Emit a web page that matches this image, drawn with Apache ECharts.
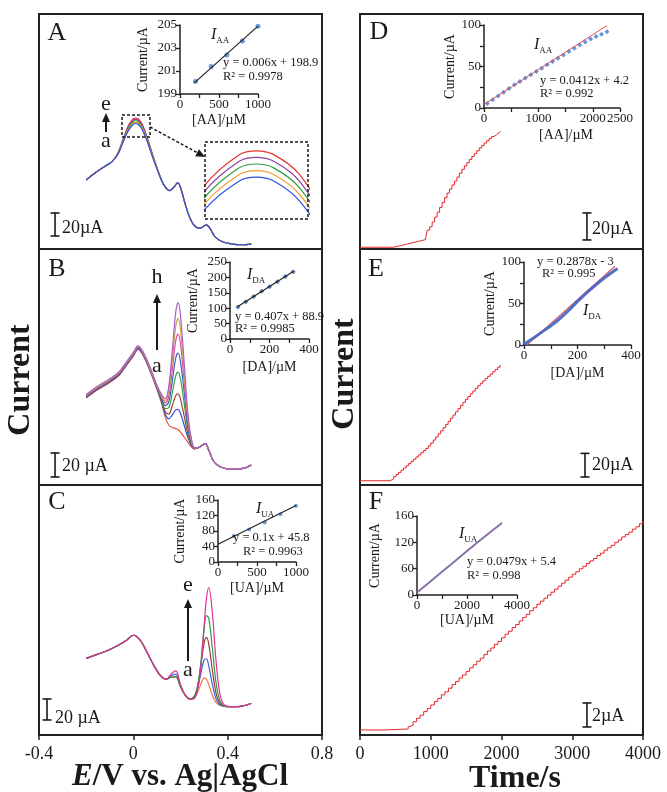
<!DOCTYPE html>
<html>
<head>
<meta charset="utf-8">
<title>DPV and amperometric response of AA, DA, UA</title>
<style>
  html, body { margin: 0; padding: 0; background: #fff; }
  #chart { width: 667px; height: 792px; }
</style>
</head>
<body>
<div id="chart"></div>
<script src="https://cdn.jsdelivr.net/npm/echarts@6/dist/echarts.min.js"></script>
<script>
  // ---------- DPV curves (potential in V, current in uA, arbitrary offset) ----------
  var potA = [-0.2, -0.16, -0.12, -0.09, -0.065, -0.04, -0.02, 0, 0.01, 0.02, 0.035, 0.055, 0.08, 0.105, 0.13, 0.155, 0.175, 0.188, 0.2, 0.22, 0.24, 0.26, 0.283, 0.3, 0.31, 0.325, 0.345, 0.375, 0.42, 0.46, 0.5];
  var dpvA_a = [60, 66.5, 72, 76, 82.3, 94.6, 103.3, 108.4, 109.1, 108.4, 104.8, 95.6, 80.8, 67, 55.5, 50.7, 54.5, 57.5, 53.5, 39, 27, 20, 18, 20, 21, 18, 11, 6.5, 4.3, 3.7, 4.3];
  var dpvA_b = [60, 66.5, 72, 76, 82.6, 95.3, 104.4, 109.6, 110.3, 109.6, 106, 96.5, 81.4, 67.3, 55.5, 50.7, 54.5, 57.5, 53.5, 39, 27, 20, 18, 20, 21, 18, 11, 6.5, 4.3, 3.7, 4.3];
  var dpvA_c = [60, 66.5, 72, 76, 83, 96, 105.5, 110.8, 111.5, 110.8, 107.2, 97.5, 82, 67.5, 55.5, 50.7, 54.5, 57.5, 53.5, 39, 27, 20, 18, 20, 21, 18, 11, 6.5, 4.3, 3.7, 4.3];
  var dpvA_d = [60, 66.5, 72, 76, 83.4, 96.7, 106.6, 112, 112.7, 112, 108.4, 98.5, 82.6, 67.7, 55.5, 50.7, 54.5, 57.5, 53.5, 39, 27, 20, 18, 20, 21, 18, 11, 6.5, 4.3, 3.7, 4.3];
  var dpvA_e = [60, 66.5, 72, 76, 83.7, 97.4, 107.7, 113.2, 113.9, 113.2, 109.6, 99.4, 83.2, 68, 55.5, 50.7, 54.5, 57.5, 53.5, 39, 27, 20, 18, 20, 21, 18, 11, 6.5, 4.3, 3.7, 4.3];

  var potB = [-0.2, -0.15, -0.1, -0.06, -0.03, 0, 0.02, 0.04, 0.07, 0.1, 0.12, 0.135, 0.15, 0.165, 0.18, 0.19, 0.2, 0.215, 0.23, 0.245, 0.26, 0.275, 0.29, 0.305, 0.32, 0.34, 0.37, 0.42, 0.47, 0.5];
  var dpvB_a = [72.5, 79.5, 85.5, 91.5, 99.5, 107.5, 113, 108.5, 95.5, 80, 68, 57, 50, 48, 47, 46, 44, 40, 36, 32, 30, 31, 33, 34.5, 29, 20, 15, 13, 14, 16.7];
  var dpvB_b = [73, 80, 86, 92, 100, 108, 113.5, 109, 96, 80.5, 69.2, 59.4, 55.1, 58.2, 62.6, 63, 59.6, 50.2, 40.3, 33.2, 30.2, 31, 33, 34.5, 29, 20, 15, 13, 14, 16.7];
  var dpvB_c = [73.5, 80.5, 86.5, 92.5, 100.5, 108.5, 114, 109.5, 96.5, 80.9, 70.1, 61.2, 59, 66, 74.6, 76, 71.6, 58, 43.5, 34.1, 30.3, 31, 33, 34.5, 29, 20, 15, 13, 14, 16.7];
  var dpvB_d = [74, 81, 87, 93, 101, 109, 114.5, 110, 97, 81.4, 71.4, 63.7, 64.4, 76.8, 91.2, 94, 88.2, 68.8, 48, 35.4, 30.5, 31, 33, 34.5, 29, 20, 15, 13, 14, 16.7];
  var dpvB_e = [74, 81, 87, 93, 101, 109, 114.5, 110, 97, 81.9, 72.5, 66, 69.2, 86.4, 105.9, 110, 102.9, 78.4, 52, 36.5, 30.6, 31, 33, 34.5, 29, 20, 15, 13, 14, 16.7];
  var dpvB_f = [74.5, 81.5, 87.5, 93.5, 101.5, 109.5, 115, 110.5, 97.5, 82.4, 73.6, 68.2, 74, 96, 120.6, 126, 117.6, 88, 56, 37.6, 30.8, 31, 33, 34.5, 29, 20, 15, 13, 14, 16.7];
  var dpvB_g = [75, 82, 88, 94, 102, 110, 115.5, 111, 98, 82.8, 74.5, 70, 77.9, 103.8, 132.6, 139, 129.6, 95.8, 59.3, 38.5, 30.9, 31, 33, 34.5, 29, 20, 15, 13, 14, 16.7];
  var dpvB_h = [75.5, 82.5, 88.5, 94.5, 102.5, 110.5, 116, 111.5, 98.5, 83.2, 75.4, 71.8, 81.8, 111.6, 144.5, 152, 141.5, 103.6, 62.5, 39.4, 31.1, 31, 33, 34.5, 29, 20, 15, 13, 14, 16.7];

  var potC = [-0.2, -0.15, -0.1, -0.06, -0.03, 0, 0.03, 0.06, 0.09, 0.115, 0.14, 0.16, 0.18, 0.2, 0.22, 0.24, 0.255, 0.27, 0.285, 0.3, 0.31, 0.32, 0.335, 0.35, 0.365, 0.38, 0.4, 0.43, 0.46, 0.5];
  var dpvC_a = [73, 77, 81.5, 86, 90, 95, 90, 78, 65, 56.5, 53, 55, 55.5, 46, 38, 34.4, 35, 39.2, 47.6, 54.1, 53.1, 47.9, 37.9, 31.1, 28.5, 27.6, 27, 27, 27.5, 30];
  var dpvC_b = [73, 77, 81.5, 86, 90, 95, 90, 78, 65, 56.5, 53, 56.5, 58, 47, 38, 34.4, 35.6, 42.5, 57.1, 71.4, 72.6, 65.6, 48.1, 34.9, 29.3, 27.7, 27, 27, 27.5, 30];
  var dpvC_c = [73, 77, 81.5, 86, 90, 95, 90, 78, 65, 56.5, 53, 55, 55.5, 46, 38, 34.4, 35.8, 44, 63.9, 87.4, 93, 86.4, 61.9, 40.5, 30.8, 27.9, 27, 27, 27.5, 30];
  var dpvC_d = [73, 77, 81.5, 86, 90, 95, 90, 78, 65, 56.5, 53, 55, 55.5, 46, 38, 34.3, 35.3, 43.5, 66.7, 99.9, 113.6, 111.4, 82.9, 50.8, 33.8, 28.4, 27, 27, 27.5, 30];
  var dpvC_e = [73, 77, 81.5, 86, 90, 95, 90, 78, 65, 56.5, 53, 58, 61, 48, 38, 34.2, 34.4, 40.4, 62.1, 103.8, 129.9, 140.5, 116.7, 72.3, 41.7, 30.2, 27.2, 27, 27.5, 30];

  // ---------- amperometric i-t curves [time s, current uA] (step level after each addition) ----------
  var ampD = [[0, 1.3], [424, 1.3], [474, 1.9], [524, 2.5], [574, 3.1], [624, 3.8], [674, 4.4], [724, 5], [774, 5.6], [824, 6.3], [874, 6.9], [924, 7.6], [950, 14], [985, 16.5], [1020, 20], [1055, 23.6], [1090, 27.2], [1125, 30.8], [1160, 34.4], [1195, 38], [1230, 41.4], [1265, 44.4], [1300, 47.4], [1335, 50.3], [1370, 53.2], [1405, 56.1], [1440, 59], [1475, 61.6], [1510, 64], [1545, 66.3], [1580, 68.5], [1615, 70.6], [1650, 72.7], [1685, 74.8], [1720, 76.7], [1755, 78.5], [1790, 80.2], [1825, 81.8], [1860, 83.3], [1895, 84.7], [1930, 86], [1965, 87.2], [1985, 87.2]];
  var ampE = [[0, 3.6], [424, 3.6], [440, 5.2], [475, 7], [510, 8.9], [545, 10.7], [580, 12.6], [615, 14.4], [650, 16.3], [685, 18.1], [720, 20], [755, 21.8], [790, 23.7], [825, 25.5], [860, 27.4], [895, 29.2], [930, 31], [965, 33.2], [1000, 35.6], [1035, 38.1], [1070, 40.7], [1105, 43.3], [1140, 45.9], [1175, 48.6], [1210, 51.2], [1245, 53.9], [1280, 56.6], [1315, 59.3], [1350, 62], [1385, 64.7], [1420, 67.4], [1455, 70.1], [1490, 72.6], [1525, 75], [1560, 77.3], [1595, 79.6], [1630, 81.9], [1665, 84.1], [1700, 86.2], [1735, 88.2], [1770, 90.2], [1805, 92.1], [1840, 94], [1875, 96], [1910, 97.9], [1945, 99.8], [1980, 101.7]];
  var ampF = [[0, 0.42], [340, 0.5], [680, 0.67], [700, 0.8], [750, 1.1], [800, 1.4], [850, 1.65], [900, 1.95], [950, 2.2], [1000, 2.5], [1050, 2.8], [1100, 3.05], [1150, 3.35], [1200, 3.6], [1250, 3.9], [1300, 4.2], [1350, 4.45], [1400, 4.75], [1450, 5], [1500, 5.3], [1550, 5.6], [1600, 5.85], [1650, 6.15], [1700, 6.4], [1750, 6.7], [1800, 7], [1850, 7.25], [1900, 7.55], [1950, 7.8], [2000, 8.1], [2050, 8.4], [2100, 8.65], [2150, 8.95], [2200, 9.2], [2250, 9.5], [2300, 9.8], [2350, 10.05], [2400, 10.35], [2450, 10.6], [2500, 10.9], [2550, 11.15], [2600, 11.4], [2650, 11.65], [2700, 11.9], [2750, 12.15], [2800, 12.4], [2850, 12.65], [2900, 12.9], [2950, 13.15], [3000, 13.4], [3050, 13.6], [3100, 13.85], [3150, 14.05], [3200, 14.3], [3250, 14.5], [3300, 14.7], [3350, 14.95], [3400, 15.15], [3450, 15.4], [3500, 15.6], [3550, 15.8], [3600, 16.05], [3650, 16.25], [3700, 16.5], [3750, 16.7], [3800, 16.9], [3850, 17.15], [3900, 17.35], [3950, 17.6], [4000, 17.8]];

  // ---------- calibration insets ----------
  var concAA_dpv = [200, 400, 600, 800, 1000];
  var curAA_dpv = [200.1, 201.4, 202.4, 203.6, 204.9];
  var fitAA_dpv = [[180, 199.95], [1000, 204.9]];
  var concDA_dpv = [40, 80, 120, 160, 200, 240, 280, 320];
  var curDA_dpv = [104, 121, 138, 155, 170, 186, 203, 218];
  var fitDA_dpv = [[40, 105.2], [320, 219.1]];
  var concUA_dpv = [200, 400, 600, 800, 1000];
  var curUA_dpv = [67, 84, 102, 123, 145];
  var fitUA_dpv = [[0, 45.8], [1000, 145.8]];
  var concAA_amp = [60, 160, 260, 360, 460, 560, 660, 760, 860, 960, 1060, 1160, 1260, 1360, 1460, 1560, 1660, 1760, 1860, 1960, 2060, 2160, 2260];
  var curAA_amp = [5.5, 10, 14.5, 19, 23.5, 28, 32, 36, 40, 44, 48, 52, 56, 60, 64, 68, 72, 76, 79.5, 83, 86, 89, 92];
  var fitAA_amp = [[0, 4.2], [2260, 99.3]];
  var concDA_amp = [0, 20, 40, 60, 80, 100, 120, 140, 160, 180, 200, 220, 240, 260, 280, 300, 320, 340, 350];
  var curDA_amp = [0.5, 5, 9.5, 14, 18.5, 23, 28, 33.5, 39.5, 46, 52.5, 58.5, 64.5, 70, 75.5, 80.5, 85.5, 90, 92];
  var fitDA_amp = [[12, 0.5], [340, 94.9]];
  var concUA_amp = [0, 500, 1000, 1500, 2000, 2500, 3000, 3400];
  var curUA_amp = [5, 26, 47, 68, 89, 110, 130, 146];
  var fitUA_amp = [[0, 5.4], [3400, 147]];

  // tick labels
  var potTicks = [-0.4, 0, 0.4, 0.8];
  var timeTicks = [0, 1000, 2000, 3000, 4000];
  var insetFyLabels = ['0', '60', '120', '160'];

  // ---------- helpers ----------
  var SERIF = "'Liberation Serif', 'DejaVu Serif', serif";
  var INK = '#1a1a1a';

  function zip(xs, ys) {
    return xs.map(function (x, i) { return [x, ys[i]]; });
  }

  function curve(g, xs, ys, color) {
    return {
      type: 'line', xAxisIndex: g, yAxisIndex: g, data: zip(xs, ys),
      symbol: 'none', smooth: 0.35, silent: true,
      lineStyle: { color: color, width: 1.2 }
    };
  }

  function stepLine(g, data) {
    return {
      type: 'line', xAxisIndex: g, yAxisIndex: g, data: data, step: 'end',
      symbol: 'none', silent: true, lineStyle: { color: '#e5262b', width: 1 }
    };
  }

  function straight(g, data, color, width) {
    return {
      type: 'line', xAxisIndex: g, yAxisIndex: g, data: data, symbol: 'none',
      silent: true, lineStyle: { color: color, width: width }
    };
  }

  function dots(g, xs, ys, symbol, size, color) {
    return {
      type: 'scatter', xAxisIndex: g, yAxisIndex: g, data: zip(xs, ys),
      symbol: symbol, symbolSize: size, silent: true, itemStyle: { color: color }
    };
  }

  function scaleBar(g, x, y0, h) {
    return {
      type: 'line', xAxisIndex: g, yAxisIndex: g, data: [[x, y0], [x, y0 + h]],
      symbol: 'rect', symbolSize: [9, 1.6], showSymbol: true, silent: true,
      lineStyle: { color: INK, width: 1.6 }, itemStyle: { color: INK }
    };
  }

  function mainGrid(left, top, height) {
    return {
      left: left, top: top, width: 283, height: height, show: true,
      borderColor: '#222', borderWidth: 2, backgroundColor: 'transparent',
      containLabel: false, outerBoundsMode: 'none'
    };
  }

  function insetGrid(left, top, width, height) {
    return { left: left, top: top, width: width, height: height, containLabel: false, outerBoundsMode: 'none' };
  }

  function hiddenAxis(g, min, max) {
    return { gridIndex: g, type: 'value', min: min, max: max, show: false };
  }

  function only(list) {
    return function (v) {
      for (var i = 0; i < list.length; i++) {
        if (Math.abs(list[i] - v) < 1e-6) return String(list[i]);
      }
      return '';
    };
  }

  function mainX(g, min, max, interval, labels) {
    return {
      gridIndex: g, type: 'value', min: min, max: max, interval: interval,
      axisLine: { show: true, onZero: false, lineStyle: { color: '#222', width: 2 } },
      axisTick: { show: true, length: 5, lineStyle: { color: '#222', width: 1.5 } },
      axisLabel: { fontFamily: SERIF, fontSize: 18, color: INK, margin: 10, formatter: only(labels) },
      splitLine: { show: false }
    };
  }

  function insetAxis(g, dim, min, max, interval, name, nameGap, fmt, namePad) {
    return {
      gridIndex: g, type: 'value', min: min, max: max, interval: interval,
      name: name, nameLocation: 'middle', nameGap: nameGap,
      nameTextStyle: { fontFamily: SERIF, fontSize: 14, color: INK, padding: namePad || 0 },
      axisLine: { show: true, onZero: false, lineStyle: { color: '#222', width: 1.5 } },
      axisTick: { show: true, length: 4, lineStyle: { color: '#222', width: 1.3 } },
      axisLabel: { fontFamily: SERIF, fontSize: 13, color: INK, margin: dim === 'x' ? 4 : 3, formatter: fmt },
      splitLine: { show: false }
    };
  }

  function T(x, y, text, font, align, rot) {
    return {
      type: 'text', x: x, y: y, z: 100, rotation: rot || 0, silent: true,
      style: {
        text: text, font: font, fill: INK,
        textAlign: align || 'center', align: align || 'center',
        textVerticalAlign: 'middle', verticalAlign: 'middle'
      }
    };
  }

  function sub(x, y, main, low) {
    return {
      type: 'text', x: x, y: y, z: 100, silent: true,
      style: {
        text: '{i|' + main + '}{s|' + low + '}', fill: INK,
        textAlign: 'left', align: 'left', textVerticalAlign: 'middle', verticalAlign: 'middle',
        rich: {
          i: { font: 'italic 16px ' + SERIF, fill: INK, lineHeight: 18, verticalAlign: 'top' },
          s: { font: '9px ' + SERIF, fill: INK, lineHeight: 9, verticalAlign: 'bottom' }
        }
      }
    };
  }

  function upArrow(x, yTail, yHead) {
    return [
      { type: 'line', z: 100, silent: true, shape: { x1: x, y1: yTail, x2: x, y2: yHead + 7 }, style: { stroke: INK, lineWidth: 2 } },
      { type: 'polygon', z: 100, silent: true, shape: { points: [[x, yHead], [x - 4, yHead + 9], [x + 4, yHead + 9]] }, style: { fill: INK } }
    ];
  }

  var EQ = '12.5px ' + SERIF;
  var colorsA = ['#2f4fe0', '#f0a030', '#2e9e3e', '#8a3fa0', '#e8322c'];
  var colorsB = ['#e8553a', '#2f4fd8', '#9c4a2a', '#36a048', '#3a60c8', '#e4508c', '#c8a050', '#a860c8'];
  var colorsC = ['#ef7a4a', '#3d5fe0', '#9a3c2e', '#2f9a48', '#e0309a'];

  var chart = echarts.init(document.getElementById('chart'), null, { renderer: 'canvas' });

  var series = [];
  // panel A main + zoom window (red drawn first so blue sits on top)
  [dpvA_e, dpvA_d, dpvA_c, dpvA_b, dpvA_a].forEach(function (ys, i) {
    series.push(curve(0, potA, ys, colorsA[4 - i]));
  });
  [dpvA_a, dpvA_b, dpvA_c, dpvA_d, dpvA_e].forEach(function (ys, i) {
    series.push(curve(12, potA, ys, colorsA[i]));
  });
  [dpvB_a, dpvB_b, dpvB_c, dpvB_d, dpvB_e, dpvB_f, dpvB_g, dpvB_h].forEach(function (ys, i) {
    series.push(curve(1, potB, ys, colorsB[i]));
  });
  [dpvC_a, dpvC_b, dpvC_c, dpvC_d, dpvC_e].forEach(function (ys, i) {
    series.push(curve(2, potC, ys, colorsC[i]));
  });
  series.push(stepLine(3, ampD), stepLine(4, ampE), stepLine(5, ampF));

  // scale bars (20 uA / 2 uA)
  series.push(scaleBar(0, -0.332, 11.3, 20));
  series.push(scaleBar(1, -0.332, 6.7, 20));
  series.push(scaleBar(2, -0.366, 14.3, 20));
  series.push(scaleBar(3, 3208, 6.7, 20));
  series.push(scaleBar(4, 3180, 6.8, 20));
  series.push(scaleBar(5, 3208, 0.67, 2));

  // insets
  series.push(straight(6, fitAA_dpv, '#222', 1.2), dots(6, concAA_dpv, curAA_dpv, 'circle', 5, '#4a86d0'));
  series.push(straight(7, fitDA_dpv, '#222', 1.2), dots(7, concDA_dpv, curDA_dpv, 'diamond', 5, '#2a56a8'));
  series.push(straight(8, fitUA_dpv, '#222', 1.2), dots(8, concUA_dpv, curUA_dpv, 'circle', 4, '#4a86d0'));
  series.push(straight(9, fitAA_amp, '#e05050', 1), dots(9, concAA_amp, curAA_amp, 'diamond', 5, '#3b7bd4'));
  series.push(straight(10, fitDA_amp, '#e05060', 1.2), {
    type: 'line', xAxisIndex: 10, yAxisIndex: 10, data: zip(concDA_amp, curDA_amp), symbol: 'none',
    silent: true, lineStyle: { color: '#3f62c0', width: 3, opacity: 0.9 }
  });
  series.push({
    type: 'line', xAxisIndex: 11, yAxisIndex: 11, data: zip(concUA_amp, curUA_amp), symbol: 'none',
    silent: true, lineStyle: { color: '#6080c8', width: 2 }
  }, straight(11, fitUA_amp, '#c86078', 1));

  var graphics = [
    T(57, 33, 'A', '26px ' + SERIF), T(57, 269, 'B', '26px ' + SERIF), T(57, 502, 'C', '26px ' + SERIF),
    T(379, 32, 'D', '26px ' + SERIF), T(376, 269, 'E', '26px ' + SERIF), T(376, 502, 'F', '26px ' + SERIF),
    T(21, 380, 'Current', 'bold 32px ' + SERIF, 'center', Math.PI / 2),
    T(345, 374, 'Current', 'bold 32px ' + SERIF, 'center', Math.PI / 2),
    {
      type: 'text', x: 180, y: 777, z: 100, silent: true,
      style: {
        text: '{e|E}{b|/V vs. Ag|AgCl}', fill: INK,
        textAlign: 'center', align: 'center', textVerticalAlign: 'middle', verticalAlign: 'middle',
        rich: { e: { font: 'italic bold 31px ' + SERIF, fill: INK }, b: { font: 'bold 31px ' + SERIF, fill: INK } }
      }
    },
    T(515, 779, 'Time/s', 'bold 32px ' + SERIF),
    // curve letters
    T(106, 104, 'e', '22px ' + SERIF), T(106, 141, 'a', '22px ' + SERIF),
    T(157, 277, 'h', '22px ' + SERIF), T(157, 366, 'a', '22px ' + SERIF),
    T(188, 585, 'e', '22px ' + SERIF), T(188, 670, 'a', '22px ' + SERIF),
    // scale bar captions
    T(62, 228, '20µA', '18px ' + SERIF, 'left'), T(62, 466, '20 µA', '18px ' + SERIF, 'left'),
    T(55, 718, '20 µA', '18px ' + SERIF, 'left'), T(592, 229, '20µA', '18px ' + SERIF, 'left'),
    T(592, 465, '20µA', '18px ' + SERIF, 'left'), T(592, 716, '2µA', '18px ' + SERIF, 'left'),
    // inset annotations
    sub(211, 36, 'I', 'AA'), T(223, 63, 'y = 0.006x + 198.9', EQ, 'left'), T(223, 77, 'R² = 0.9978', EQ, 'left'),
    sub(247, 276, 'I', 'DA'), T(235, 317, 'y = 0.407x + 88.9', EQ, 'left'), T(235, 329, 'R² = 0.9985', EQ, 'left'),
    sub(256, 510, 'I', 'UA'), T(233, 538, 'y = 0.1x + 45.8', EQ, 'left'), T(243, 552, 'R² = 0.9963', EQ, 'left'),
    sub(534, 46, 'I', 'AA'), T(540, 81, 'y = 0.0412x + 4.2', EQ, 'left'), T(540, 94, 'R² = 0.992', EQ, 'left'),
    T(537, 262, 'y = 0.2878x - 3', EQ, 'left'), T(542, 274, 'R² = 0.995', EQ, 'left'), sub(583, 312, 'I', 'DA'),
    sub(459, 535, 'I', 'UA'), T(467, 562, 'y = 0.0479x + 5.4', EQ, 'left'), T(467, 576, 'R² = 0.998', EQ, 'left'),
    // zoom boxes in A
    { type: 'rect', z: 100, silent: true, shape: { x: 122, y: 115, width: 28, height: 22 }, style: { fill: 'none', stroke: INK, lineWidth: 1.5, lineDash: [3, 2] } },
    { type: 'rect', z: 100, silent: true, shape: { x: 205, y: 142, width: 103, height: 77 }, style: { fill: 'none', stroke: INK, lineWidth: 1.5, lineDash: [3, 2] } },
    { type: 'line', z: 100, silent: true, shape: { x1: 150, y1: 127, x2: 197, y2: 152.5 }, style: { stroke: INK, lineWidth: 1.5, lineDash: [3, 2] } },
    { type: 'polygon', z: 100, silent: true, shape: { points: [[205, 157], [195.2, 156.2], [199, 149.2]] }, style: { fill: INK } }
  ];
  graphics = graphics.concat(upArrow(106, 132, 113), upArrow(157, 350, 294), upArrow(188, 661, 599));

  var option = {
    animation: false,
    backgroundColor: '#fff',
    textStyle: { fontFamily: SERIF },
    grid: [
      mainGrid(39, 14, 235), mainGrid(39, 249, 236), mainGrid(39, 485, 250),
      mainGrid(360, 14, 235), mainGrid(360, 249, 236), mainGrid(360, 485, 250),
      insetGrid(180, 25, 78, 69), insetGrid(230, 262, 79, 77), insetGrid(218, 500, 78, 62),
      insetGrid(484, 25, 136, 83), insetGrid(524, 262, 107, 83), insetGrid(417, 516, 100, 79),
      insetGrid(205, 142, 103, 77)
    ],
    xAxis: [
      hiddenAxis(0, -0.4, 0.8), hiddenAxis(1, -0.4, 0.8), mainX(2, -0.4, 0.8, 0.4, potTicks),
      hiddenAxis(3, 0, 4000), hiddenAxis(4, 0, 4000), mainX(5, 0, 4000, 1000, timeTicks),
      insetAxis(6, 'x', 0, 1000, 250, '[AA]/µM', 19, only([0, 500, 1000])),
      insetAxis(7, 'x', 0, 400, 100, '[DA]/µM', 21, only([0, 200, 400])),
      insetAxis(8, 'x', 0, 1000, 250, '[UA]/µM', 19, only([0, 500, 1000])),
      insetAxis(9, 'x', 0, 2500, 500, '[AA]/µM', 20, only([0, 1000, 2000, 2500]), [0, 0, 0, 28]),
      insetAxis(10, 'x', 0, 400, 100, '[DA]/µM', 21, only([0, 200, 400])),
      insetAxis(11, 'x', 0, 4000, 1000, '[UA]/µM', 18, only([0, 2000, 4000])),
      hiddenAxis(12, -0.02, 0.04)
    ],
    yAxis: [
      hiddenAxis(0, 0, 204.3), hiddenAxis(1, 0, 196.7), hiddenAxis(2, 0, 238.1),
      hiddenAxis(3, 0, 174), hiddenAxis(4, 0, 200), hiddenAxis(5, 0, 20.83),
      insetAxis(6, 'y', 199, 205, 2, 'Current/µA', 30, only([199, 201, 203, 205])),
      insetAxis(7, 'y', 0, 250, 50, 'Current/µA', 30, only([0, 50, 100, 150, 200, 250])),
      insetAxis(8, 'y', 0, 160, 40, 'Current/µA', 31, only([0, 40, 80, 120, 160])),
      insetAxis(9, 'y', 0, 100, 25, 'Current/µA', 27, only([0, 50, 100])),
      insetAxis(10, 'y', 0, 100, 25, 'Current/µA', 17, only([0, 50, 100])),
      insetAxis(11, 'y', 0, 160, 160 / 3, 'Current/µA', 35, function (v) {
        return insetFyLabels[Math.round(v / (160 / 3))] || '';
      }),
      hiddenAxis(12, 101.5, 115.5)
    ],
    series: series,
    graphic: { elements: graphics }
  };

  chart.setOption(option);
</script>
</body>
</html>
